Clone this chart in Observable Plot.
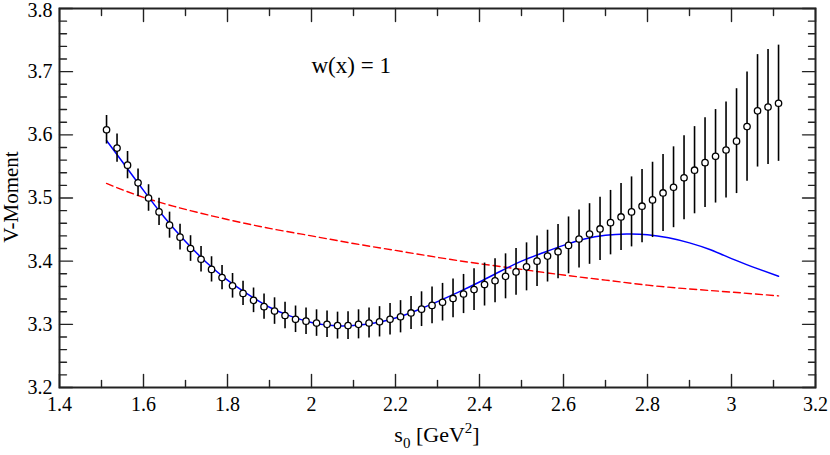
<!DOCTYPE html>
<html>
<head>
<meta charset="utf-8">
<script src="https://cdn.jsdelivr.net/npm/d3@7"></script>
<script src="https://cdn.jsdelivr.net/npm/@observablehq/plot@0.6"></script>
<style>
  html, body { margin: 0; padding: 0; background: white; }
  svg text { font-family: "Liberation Serif", "DejaVu Serif", serif; }
</style>
</head>
<body>
<div id="chart"></div>
<script>
// ---- data ----
const s0 = [
  1.512,1.537,1.562,1.587,1.612,1.637,1.662,1.687,1.712,1.737,
  1.762,1.787,1.812,1.837,1.862,1.887,1.912,1.937,1.962,1.987,
  2.012,2.037,2.062,2.087,2.112,2.137,2.162,2.187,2.212,2.237,
  2.262,2.287,2.312,2.337,2.362,2.387,2.412,2.437,2.462,2.487,
  2.512,2.537,2.562,2.587,2.612,2.637,2.662,2.687,2.712,2.737,
  2.762,2.787,2.812,2.837,2.862,2.887,2.912,2.937,2.962,2.987,
  3.012,3.037,3.062,3.087,3.112
];
const moment = [
  3.608,3.579,3.552,3.524,3.500,3.478,3.457,3.438,3.420,3.403,
  3.387,3.374,3.361,3.349,3.338,3.328,3.321,3.314,3.308,3.305,
  3.302,3.300,3.298,3.298,3.300,3.302,3.304,3.308,3.312,3.318,
  3.324,3.330,3.335,3.341,3.348,3.355,3.363,3.369,3.376,3.383,
  3.391,3.400,3.408,3.415,3.425,3.435,3.443,3.451,3.461,3.470,
  3.478,3.487,3.497,3.508,3.517,3.532,3.544,3.556,3.566,3.576,
  3.590,3.613,3.638,3.644,3.650
];
const momentErr = [
  0.0226,0.0224,0.0216,0.0218,0.0210,0.0216,0.0206,0.0203,0.0203,0.0203,
  0.0200,0.0193,0.0195,0.0193,0.0195,0.0200,0.0210,0.0210,0.0210,0.0210,
  0.0210,0.0210,0.0213,0.0220,0.0230,0.0237,0.0240,0.0250,0.0255,0.0260,
  0.0275,0.0290,0.0298,0.0306,0.0310,0.0330,0.0340,0.0350,0.0356,0.0370,
  0.0380,0.0400,0.0410,0.0430,0.0450,0.0460,0.0480,0.0500,0.0510,0.0530,
  0.0554,0.0580,0.0596,0.0610,0.0640,0.0665,0.0690,0.0710,0.0740,0.0760,
  0.0830,0.0865,0.0890,0.0910,0.0920
];

// blue solid fit curve
const fitX = [1.512,1.55,1.6,1.65,1.7,1.75,1.8,1.85,1.9,1.95,2.0,2.05,2.1,2.15,2.2,2.25,2.3,2.35,2.4,2.45,2.5,2.55,2.6,2.65,2.7,2.75,2.8,2.85,2.9,2.95,3.0,3.05,3.112];
const fitY = [3.591,3.557,3.512,3.469,3.431,3.398,3.370,3.347,3.327,3.313,3.303,3.298,3.298,3.302,3.310,3.322,3.336,3.351,3.367,3.384,3.400,3.413,3.425,3.435,3.441,3.443,3.442,3.437,3.429,3.418,3.404,3.391,3.376];

// red dashed curve
const dashX = [1.512,1.6,1.7,1.8,1.9,2.0,2.1,2.2,2.3,2.4,2.5,2.6,2.7,2.8,2.9,3.0,3.112];
const dashY = [3.523,3.501,3.482,3.466,3.452,3.440,3.428,3.417,3.406,3.396,3.387,3.378,3.370,3.362,3.356,3.351,3.345];

// axis ticks and labels
const xMajor = [1.4,1.6,1.8,2.0,2.2,2.4,2.6,2.8,3.0,3.2];
const xTickLabels = ["1.4","1.6","1.8","2","2.2","2.4","2.6","2.8","3","3.2"];
const xMinor = [1.5,1.7,1.9,2.1,2.3,2.5,2.7,2.9,3.1];
const yMajor = [3.2,3.3,3.4,3.5,3.6,3.7,3.8];
const yTickLabels = ["3.2","3.3","3.4","3.5","3.6","3.7","3.8"];
const yMinor = [3.22,3.24,3.26,3.28,3.32,3.34,3.36,3.38,3.42,3.44,3.46,3.48,3.52,3.54,3.56,3.58,3.62,3.64,3.66,3.68,3.72,3.74,3.76,3.78];

const annotation = "w(x) = 1";
const yLabel = "V-Moment";

// ---- build tables ----
const points = s0.map((x, i) => ({x, y: moment[i], lo: moment[i] - momentErr[i], hi: moment[i] + momentErr[i]}));
const fit = fitX.map((x, i) => ({x, y: fitY[i]}));
const dash = dashX.map((x, i) => ({x, y: dashY[i]}));
const yLabelMap = new Map(yMajor.map((v, i) => [v, yTickLabels[i]]));
const yTop = yMajor[yMajor.length - 1];

const serif = "Liberation Serif";
const tickShape = {draw(context, l) { context.moveTo(0, 0); context.lineTo(0, -l); }};
const axisColor = "#222";
const tickMarks = (data, channel, frameAnchor, rotate, length) =>
  Plot.vector(data, {[channel]: d => d, frameAnchor, rotate, length, anchor: "start", shape: tickShape, stroke: axisColor, strokeWidth: 1.4});

const chart = Plot.plot({
  width: 830,
  height: 455,
  marginLeft: 59,
  marginRight: 15,
  marginTop: 8,
  marginBottom: 68,
  x: {domain: [1.4, 3.2]},
  y: {domain: [3.2, 3.8]},
  style: {fontFamily: serif, background: "white", color: "black"},
  marks: [
    Plot.line(dash, {x: "x", y: "y", stroke: "#ff0000", strokeWidth: 1.4, strokeDasharray: "7,4", curve: "natural"}),
    Plot.line(fit, {x: "x", y: "y", stroke: "#0000ff", strokeWidth: 1.5, curve: "natural"}),
    Plot.ruleX(points, {x: "x", y1: "lo", y2: "hi", stroke: "black", strokeWidth: 1.6}),
    Plot.dot(points, {x: "x", y: "y", r: 3.2, fill: "white", stroke: "black", strokeWidth: 1.3}),
    Plot.text([annotation], {x: 2.0, y: 3.71, text: d => d, textAnchor: "start", fontSize: 23, fontFamily: serif, fill: "black"}),
    Plot.axisX({ticks: xMajor, tickSize: 0, tickPadding: 9, tickFormat: (d, i) => xTickLabels[i], fontSize: 20, fontFamily: serif, label: null}),
    Plot.axisY({ticks: yMajor.filter(v => v !== yTop), tickSize: 0, tickPadding: 7, tickFormat: d => yLabelMap.get(d), fontSize: 20, fontFamily: serif, label: null}),
    Plot.axisY({ticks: [yTop], tickSize: 0, tickPadding: 7, dy: 2, tickFormat: d => yLabelMap.get(d), fontSize: 20, fontFamily: serif, label: null}),
    tickMarks(xMajor, "x", "bottom", 0, 13),
    tickMarks(xMinor, "x", "bottom", 0, 7),
    tickMarks(xMajor, "x", "top", 180, 13),
    tickMarks(xMinor, "x", "top", 180, 7),
    tickMarks(yMajor, "y", "left", 90, 13),
    tickMarks(yMinor, "y", "left", 90, 7),
    tickMarks(yMajor, "y", "right", -90, 13),
    tickMarks(yMinor, "y", "right", -90, 7),
    Plot.frame({stroke: axisColor, strokeWidth: 2})
  ]
});

document.getElementById("chart").appendChild(chart);

// axis titles (with sub/superscripts)
const svg = d3.select(chart);
const xt = svg.append("text")
  .attr("x", 437).attr("y", 442)
  .attr("text-anchor", "middle")
  .attr("font-size", 22)
  .attr("font-family", serif)
  .attr("fill", "black");
xt.append("tspan").text("s");
xt.append("tspan").attr("font-size", 15).attr("dy", 6).text("0");
xt.append("tspan").attr("dy", -6).text(" [GeV");
xt.append("tspan").attr("font-size", 15).attr("dy", -9).text("2");
xt.append("tspan").attr("dy", 9).text("]");

svg.append("text")
  .attr("transform", "translate(18,197) rotate(-90)")
  .attr("text-anchor", "middle")
  .attr("font-size", 21)
  .attr("font-family", serif)
  .attr("fill", "black")
  .text(yLabel);
</script>
</body>
</html>
